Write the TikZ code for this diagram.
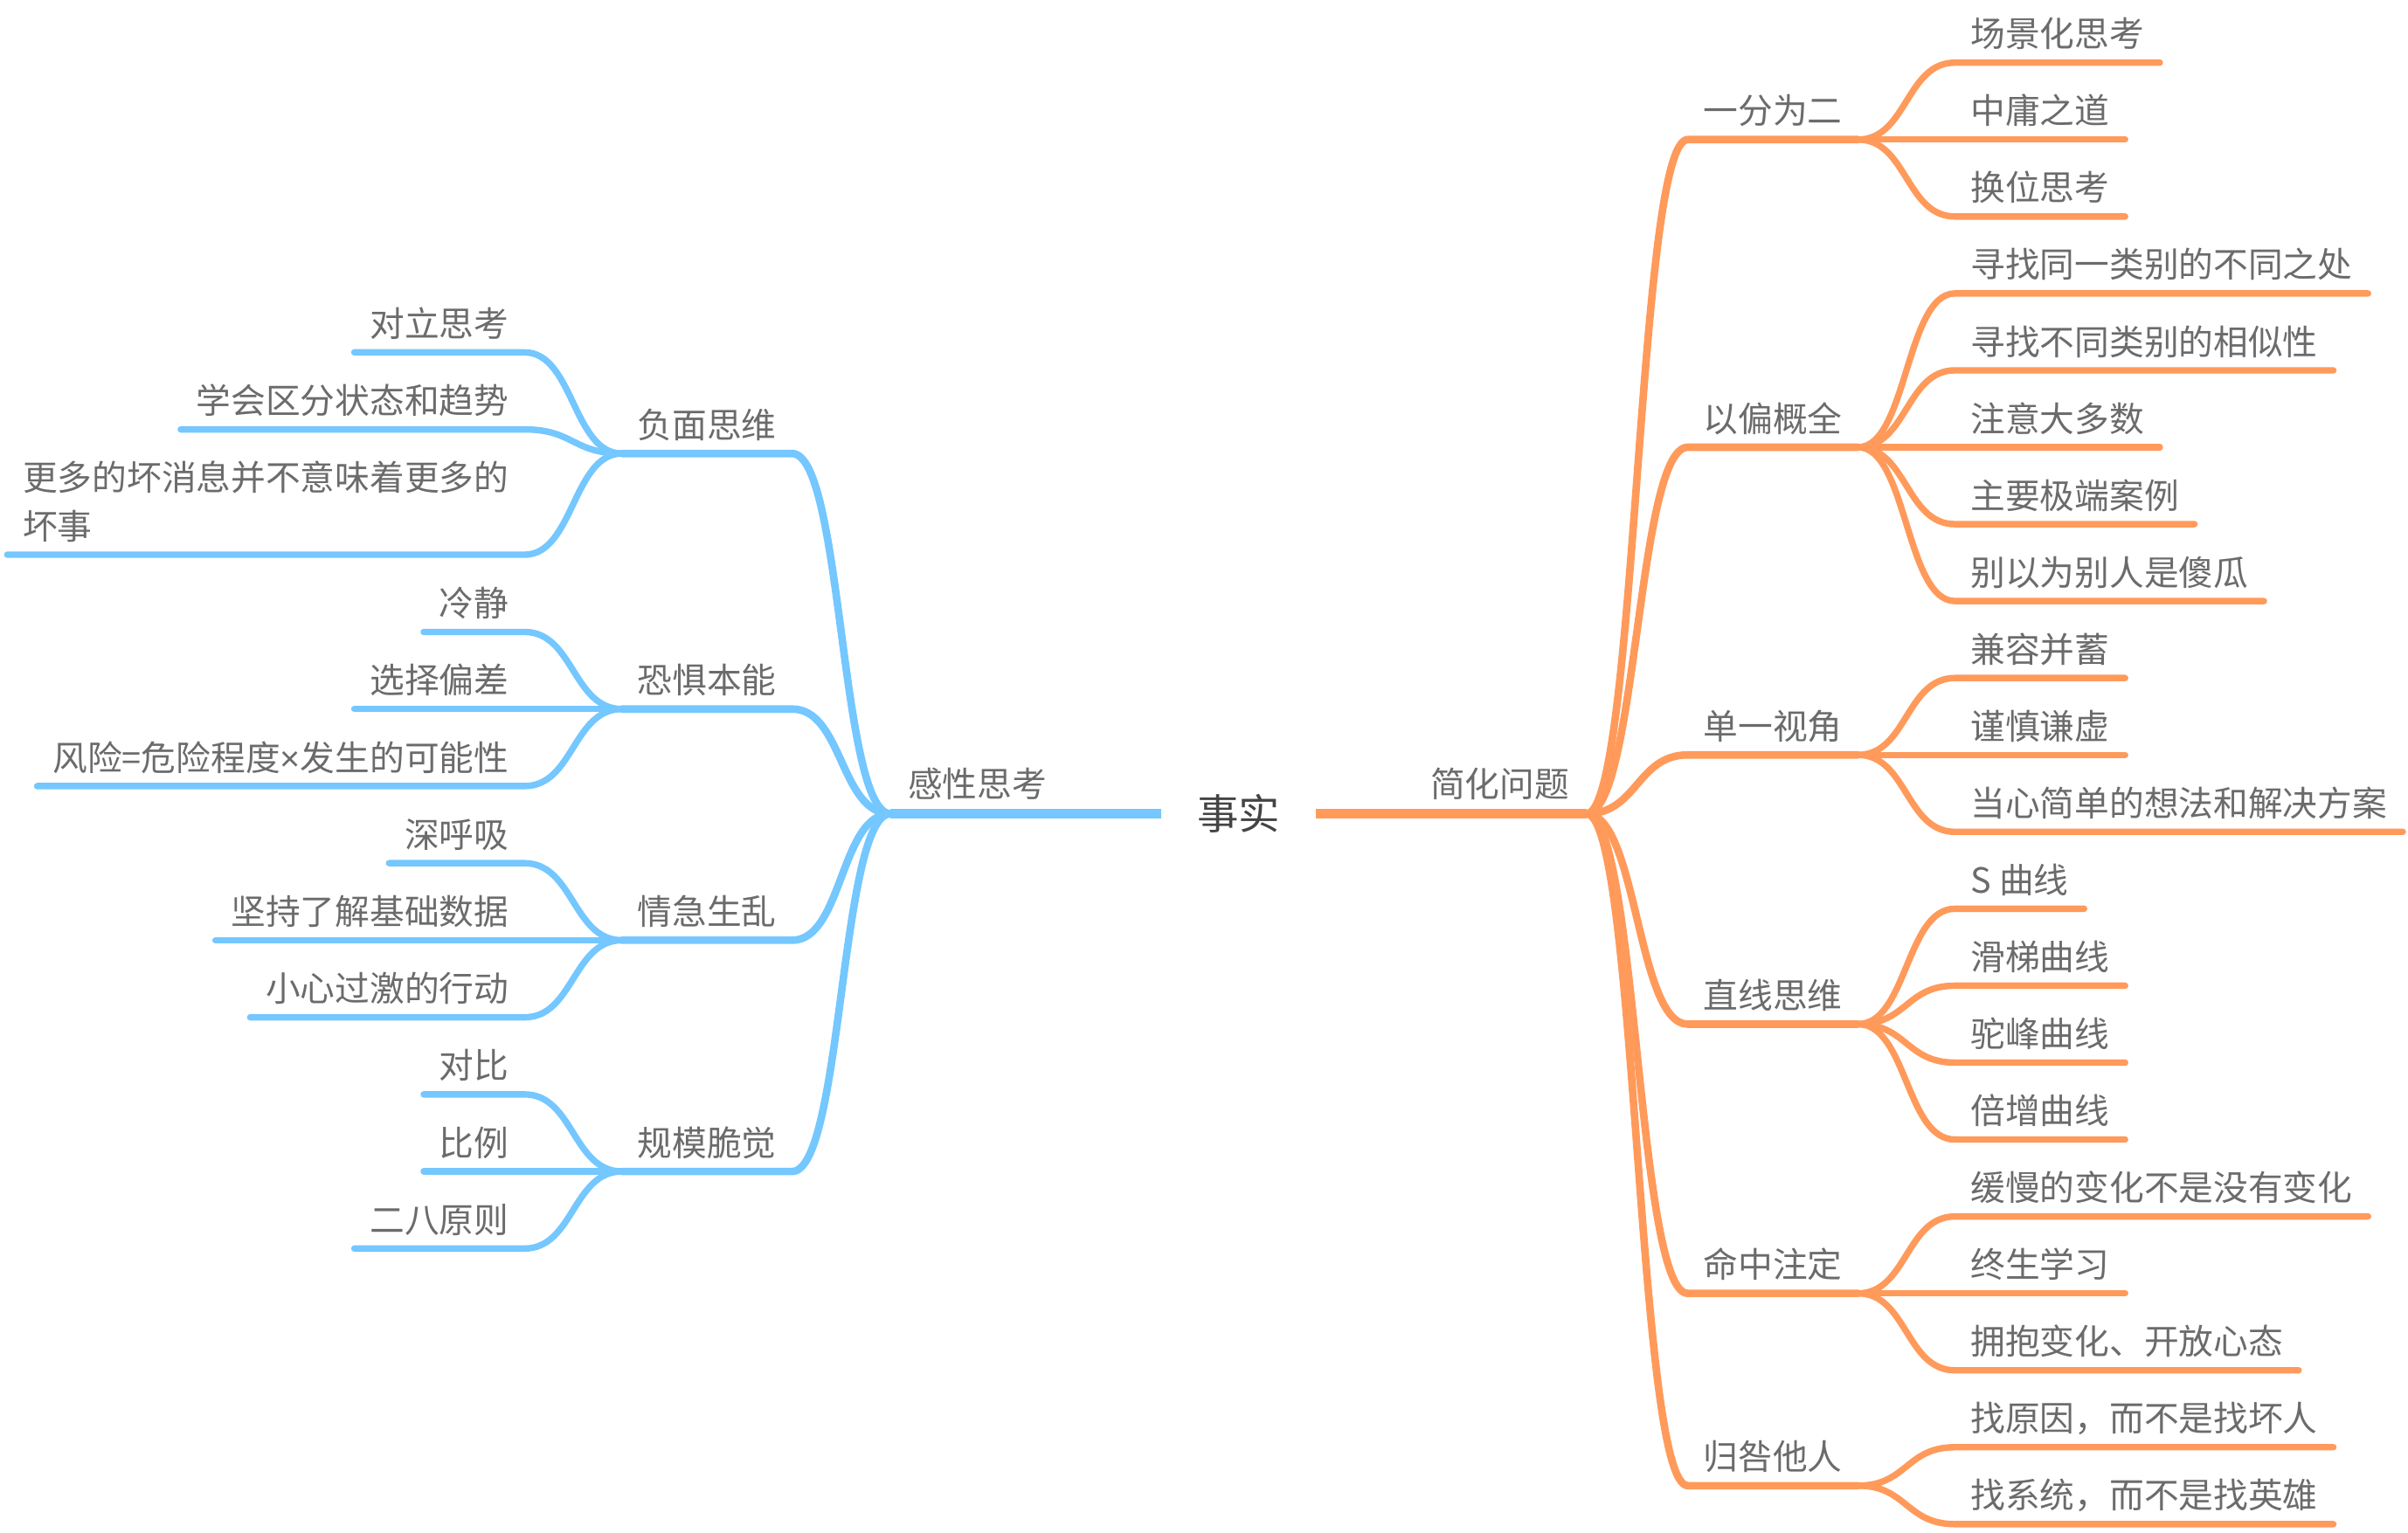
\documentclass[tikz,border=0pt]{standalone}
\usepackage{fontspec}
\setmainfont{Noto Sans CJK SC}
\newfontfamily\latinf{Liberation Sans}
\definecolor{org}{HTML}{FF9A5B}
\definecolor{blu}{HTML}{74C7FF}
\definecolor{txg}{HTML}{6B6B6B}
\definecolor{ctr}{HTML}{444444}
\begin{document}
\begin{tikzpicture}[x=1pt,y=-1pt,
  tx/.style={font=\fontsize{22.6}{31.5}\selectfont, text=txg, inner xsep=10pt, inner ysep=10pt, text height=18pt, text depth=0pt},
  rtx/.style={tx, inner xsep=11pt, inner ysep=10.5pt},
  ctx/.style={font=\fontsize{27}{32}\selectfont, text=ctr, inner xsep=23pt, inner ysep=0pt, text height=20.6pt, text depth=0pt},
  obr/.style={draw=org, line width=4.9pt, line cap=round, line join=round},
  olf/.style={draw=org, line width=4.2pt, line cap=round, line join=round},
  bbr/.style={draw=blu, line width=4.9pt, line cap=round, line join=round},
  blf/.style={draw=blu, line width=4.2pt, line cap=round, line join=round},
  rootln/.style={line width=6.4pt}]
\useasboundingbox (0,0) rectangle (1568,998);

% center
\node[ctx] (c) at (806.5,530) {事实};
\coordinate (jr) at (1033,530);
\coordinate (jl) at (580,530);
\node[rtx, anchor=south east] (r1) at (jr) {简化问题};
\node[rtx, anchor=south west] (r2) at (jl) {感性思考};
\draw[org, rootln] (c.east) -- (r1.south east);
\draw[blu, rootln] (c.west) -- (r2.south west);

% ---------- right side ----------
\node[tx, anchor=south west] (a1) at (1099,90.9) {一分为二};
\node[tx, anchor=south west] (a2) at (1099,291.3) {以偏概全};
\node[tx, anchor=south west] (a3) at (1099,491.7) {单一视角};
\node[tx, anchor=south west] (a4) at (1099,667.05) {直线思维};
\node[tx, anchor=south west] (a5) at (1099,842.4) {命中注定};
\node[tx, anchor=south west] (a6) at (1099,967.65) {归咎他人};
\foreach \n in {a1,a2,a3,a4,a5,a6}{
  \draw[obr] (r1.south east) .. controls +(33,0) and +(-33,0) .. (\n.south west) -- (\n.south east);
}

\node[tx, anchor=south west] (a1x1) at (1273,40.8) {场景化思考};
\node[tx, anchor=south west] (a1x2) at (1273,90.9) {中庸之道};
\node[tx, anchor=south west] (a1x3) at (1273,141.0) {换位思考};
\node[tx, anchor=south west] (a2x1) at (1273,191.1) {寻找同一类别的不同之处};
\node[tx, anchor=south west] (a2x2) at (1273,241.2) {寻找不同类别的相似性};
\node[tx, anchor=south west] (a2x3) at (1273,291.3) {注意大多数};
\node[tx, anchor=south west] (a2x4) at (1273,341.4) {主要极端案例};
\node[tx, anchor=south west] (a2x5) at (1273,391.5) {别以为别人是傻瓜};
\node[tx, anchor=south west] (a3x1) at (1273,441.6) {兼容并蓄};
\node[tx, anchor=south west] (a3x2) at (1273,491.7) {谨慎谦虚};
\node[tx, anchor=south west] (a3x3) at (1273,541.8) {当心简单的想法和解决方案};
\node[tx, anchor=south west] (a4x1) at (1273,591.9) {S 曲线};
\node[tx, anchor=south west] (a4x2) at (1273,642.0) {滑梯曲线};
\node[tx, anchor=south west] (a4x3) at (1273,692.1) {驼峰曲线};
\node[tx, anchor=south west] (a4x4) at (1273,742.2) {倍增曲线};
\node[tx, anchor=south west] (a5x1) at (1273,792.3) {缓慢的变化不是没有变化};
\node[tx, anchor=south west] (a5x2) at (1273,842.4) {终生学习};
\node[tx, anchor=south west] (a5x3) at (1273,892.5) {拥抱变化、开放心态};
\node[tx, anchor=south west] (a6x1) at (1273,942.6) {找原因，而不是找坏人};
\node[tx, anchor=south west] (a6x2) at (1273,992.7) {找系统，而不是找英雄};
\foreach \p/\n in {a1/a1x1,a1/a1x2,a1/a1x3,a2/a2x1,a2/a2x2,a2/a2x3,a2/a2x4,a2/a2x5,a3/a3x1,a3/a3x2,a3/a3x3,a4/a4x1,a4/a4x2,a4/a4x3,a4/a4x4,a5/a5x1,a5/a5x2,a5/a5x3,a6/a6x1,a6/a6x2}{
  \draw[olf] (\p.south east) .. controls +(32,0) and +(-32,0) .. (\n.south west) -- (\n.south east);
}

% ---------- left side ----------
\node[tx, anchor=south west] (b1) at (405,295.4) {负面思维};
\node[tx, anchor=south west] (b2) at (405,461.8) {恐惧本能};
\node[tx, anchor=south west] (b3) at (405,612.4) {情急生乱};
\node[tx, anchor=south west] (b4) at (405,763.0) {规模脆觉};
\foreach \n in {b1,b2,b3,b4}{
  \draw[bbr] (\n.south west) -- (\n.south east) .. controls +(33,0) and +(-33,0) .. (r2.south west);
}

\node[tx, anchor=south east] (b1x1) at (341.5,229.5) {对立思考};
\node[tx, anchor=south east] (b1x2) at (341.5,279.7) {学会区分状态和趋势};
\node[tx, anchor=south east] (b1x3) at (341.5,361.3) {\parbox[b]{316.4pt}{更多的坏消息并不意味着更多的\par 坏事}};
\node[tx, anchor=south east] (b2x1) at (341.5,411.6) {冷静};
\node[tx, anchor=south east] (b2x2) at (341.5,461.8) {选择偏差};
\node[tx, anchor=south east] (b2x3) at (341.5,512.0) {风险=危险程度{\latinf ×}发生的可能性};
\node[tx, anchor=south east] (b3x1) at (341.5,562.2) {深呼吸};
\node[tx, anchor=south east] (b3x2) at (341.5,612.4) {坚持了解基础数据};
\node[tx, anchor=south east] (b3x3) at (341.5,662.6) {小心过激的行动};
\node[tx, anchor=south east] (b4x1) at (341.5,712.8) {对比};
\node[tx, anchor=south east] (b4x2) at (341.5,763.0) {比例};
\node[tx, anchor=south east] (b4x3) at (341.5,813.2) {二八原则};
\foreach \p/\n in {b1/b1x1,b1/b1x2,b1/b1x3,b2/b2x1,b2/b2x2,b2/b2x3,b3/b3x1,b3/b3x2,b3/b3x3,b4/b4x1,b4/b4x2,b4/b4x3}{
  \draw[blf] (\n.south west) -- (\n.south east) .. controls +(32,0) and +(-32,0) .. (\p.south west);
}
\end{tikzpicture}
\end{document}
